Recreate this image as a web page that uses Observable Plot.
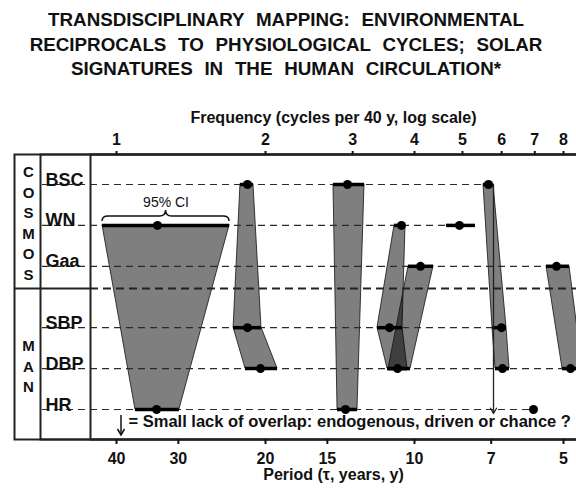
<!DOCTYPE html>
<html><head><meta charset="utf-8">
<script src="https://cdn.jsdelivr.net/npm/d3@7"></script>
<script src="https://cdn.jsdelivr.net/npm/@observablehq/plot@0.6"></script>
<style>
html,body{margin:0;padding:0;background:#fff;overflow:hidden;}
#title{height:95px;box-sizing:border-box;padding-top:8px;padding-right:4px;text-align:center;font:bold 18.8px "Liberation Sans",Arial,sans-serif;line-height:24.5px;word-spacing:6.5px;color:#111;}
#chart svg{display:block;overflow:hidden;}
</style></head><body>
<div id="title">TRANSDISCIPLINARY MAPPING: ENVIRONMENTAL<br>RECIPROCALS TO PHYSIOLOGICAL CYCLES; SOLAR<br>SIGNATURES IN THE HUMAN CIRCULATION*</div>
<div id="chart"></div>
<script>
// ---- data ----
const rows = ["BSC", "WN", "Gaa", "SBP", "DBP", "HR"];
const rowPos = [0, 1, 2, 3.5, 4.5, 5.5];
const groups = ["COSMOS", "MAN"];
const groupRows = [["BSC", "WN", "Gaa"], ["SBP", "DBP", "HR"]];
const dividerPos = 2.54;
const freqDomain = [0.886, 8.499];
const freqTicks = [1, 2, 3, 4, 5, 6, 7, 8];
const periodTicks = [40, 30, 20, 15, 10, 7, 5];

// 95% CI bands (frequency, cycles per 40 y), joined across rows
const bandId  = [1, 1, 2, 2, 2, 3, 3, 4, 4, 4, 5, 5, 6, 6, 6, 7, 7];
const bandRow = ["WN", "HR", "BSC", "SBP", "DBP", "BSC", "HR", "WN", "SBP", "DBP", "Gaa", "DBP", "BSC", "SBP", "DBP", "Gaa", "DBP"];
const bandLo  = [0.937, 1.092, 1.780, 1.724, 1.822, 2.744, 2.796, 3.645, 3.367, 3.528, 3.890, 3.545, 5.514, 5.750, 5.831, 7.392, 7.963];
const bandHi  = [1.692, 1.340, 1.891, 1.963, 2.115, 3.170, 3.068, 3.836, 3.783, 3.872, 4.370, 3.927, 5.777, 6.137, 6.223, 8.227, 8.740];

// CI not joined to any band
const extraCiRow = ["WN"];
const extraCiLo = [4.642];
const extraCiHi = [5.312];

// point estimates
const ptRow  = ["BSC", "BSC", "BSC", "WN", "WN", "WN", "Gaa", "Gaa", "SBP", "SBP", "SBP", "DBP", "DBP", "DBP", "DBP", "HR", "HR", "HR"];
const ptFreq = [1.839, 2.929, 5.644, 1.210, 3.765, 4.931, 4.113, 7.744, 1.839, 3.561, 5.995, 1.954, 3.696, 6.023, 8.265, 1.205, 2.902, 6.958];

// "small lack of overlap" arrow
const arrowFreq = [5.777];
const arrowFrom = ["BSC"];
const arrowTo = ["HR"];

const topLabel = "Frequency (cycles per 40 y, log scale)";
const bottomLabel = "Period (\u03C4, years, y)";
const ciLabel = "95% CI";
const note = "= Small lack of overlap: endogenous, driven or chance ?";

// ---- derived tables ----
const rowY = new Map(rows.map((r, i) => [r, rowPos[i]]));
const bands = bandId.map((b, i) => ({band: b, row: bandRow[i], y: rowY.get(bandRow[i]), lo: bandLo[i], hi: bandHi[i]}));
const cis = bands.concat(extraCiRow.map((r, i) => ({row: r, y: rowY.get(r), lo: extraCiLo[i], hi: extraCiHi[i]})));
const pts = ptRow.map((r, i) => ({row: r, y: rowY.get(r), x: ptFreq[i]}));
const rowLines = rows.map(r => ({
  y: rowY.get(r),
  start: freqDomain[0],
  end: d3.max([...cis.filter(c => c.row === r).map(c => c.hi), ...pts.filter(p => p.row === r).map(p => p.x)])
}));
const arrows = arrowFreq.map((f, i) => ({x: f, y1: rowY.get(arrowFrom[i]), y2: rowY.get(arrowTo[i])}));
const wn = bands[0];

const plot = Plot.plot({
  width: 576,
  height: 393,
  marginLeft: 90,
  marginRight: 0,
  marginTop: 59,
  marginBottom: 49,
  style: {fontFamily: "'Liberation Sans', Arial, sans-serif", fontSize: "16px", fontWeight: "bold", color: "#111", background: "#fff", overflow: "hidden"},
  x: {type: "log", domain: freqDomain},
  y: {type: "linear", domain: [0, 5.5], range: [89, 314], axis: null},
  marks: [
    Plot.areaX(bands, {y: "y", x1: "lo", x2: "hi", z: "band", fill: "#000", fillOpacity: 0.5, stroke: "#111", strokeWidth: 0.8}),
    Plot.ruleY(rowLines, {y: "y", x1: "start", x2: "end", insetLeft: -48, stroke: "#2a2a2a", strokeWidth: 1.2, strokeDasharray: "7,5"}),
    Plot.ruleY([dividerPos], {stroke: "#222", strokeWidth: 2, strokeDasharray: "8,5"}),
    Plot.ruleY([dividerPos], {stroke: "#222", strokeWidth: 2, insetLeft: -76, insetRight: 486}),
    Plot.ruleY(cis, {y: "y", x1: "lo", x2: "hi", stroke: "#000", strokeWidth: 3.5}),
    Plot.dot(pts, {x: "x", y: "y", r: 4.5, fill: "#000"}),
    Plot.arrow(arrows, {x1: "x", x2: "x", y1: "y1", y2: "y2", stroke: "#222", strokeWidth: 1.3, headLength: 7, insetEnd: -4}),
    Plot.frame({stroke: "#222", strokeWidth: 2, insetLeft: -76, insetRight: -4}),
    Plot.frame({stroke: "#222", strokeWidth: 2, insetLeft: -50, insetRight: -4}),
    Plot.frame({stroke: "#222", strokeWidth: 2, insetRight: -4}),
    Plot.text(rows, {y: (d, i) => rowPos[i], text: d => d, frameAnchor: "left", dx: -45, textAnchor: "start", lineAnchor: "bottom", dy: 1, fontSize: 18, fontWeight: "bold", fill: "#111"}),
    Plot.text(groups, {y: (d, i) => d3.mean(groupRows[i], r => rowY.get(r)), text: d => d.split("").join("\n"), frameAnchor: "left", dx: -62, dy: -3.5, lineHeight: 1.37, fontSize: 15, fontWeight: "bold", textAnchor: "middle", fill: "#111"}),
    Plot.text([ciLabel], {x: () => Math.sqrt(wn.lo * wn.hi), y: () => wn.y, text: d => d, dy: -23, fontSize: 14, fontWeight: "normal", fill: "#111"}),
    Plot.text([topLabel], {text: d => d, frameAnchor: "top", dy: -43, fontSize: 16, fontWeight: "bold", fill: "#111"}),
    Plot.text([bottomLabel], {text: d => d, frameAnchor: "bottom", dy: 40.5, fontSize: 16, fontWeight: "bold", fill: "#111"}),
    Plot.text([note], {text: d => d, frameAnchor: "bottom-left", dx: 38, dy: -12.5, textAnchor: "start", fontSize: 16.5, fontWeight: "bold", fill: "#111"}),
    Plot.axisX({anchor: "top", ticks: freqTicks, tickFormat: d => String(d), tickSize: 4, tickPadding: 6, label: null, strokeWidth: 2, fontSize: 16}),
    Plot.axisX({anchor: "bottom", ticks: periodTicks.map(p => 40 / p), tickFormat: f => String(Math.round(40 / f)), tickSize: 5, tickPadding: 8, label: null, strokeWidth: 2, fontSize: 16})
  ]
});

document.getElementById("chart").appendChild(plot);

// brace over the WN 95% CI and the legend arrow
const svg = d3.select(plot);
const xs = plot.scale("x"), ys = plot.scale("y");
const x0 = xs.apply(wn.lo), x1 = xs.apply(wn.hi), wy = ys.apply(wn.y);
const xm = (x0 + x1) / 2, yb = wy - 4, yh = wy - 9, yp = wy - 15;
svg.append("path")
  .attr("d", `M${x0},${yb} Q${x0},${yh} ${x0 + 6},${yh} L${xm - 6},${yh} Q${xm},${yh} ${xm},${yp} Q${xm},${yh} ${xm + 6},${yh} L${x1 - 6},${yh} Q${x1},${yh} ${x1},${yb}`)
  .attr("fill", "none").attr("stroke", "#111").attr("stroke-width", 1.5);
const ax = 121, ay1 = 320, ay2 = 340;
svg.append("line").attr("x1", ax).attr("x2", ax).attr("y1", ay1).attr("y2", ay2).attr("stroke", "#111").attr("stroke-width", 1.5);
svg.append("path").attr("d", `M${ax - 3.5},${ay2 - 6} L${ax},${ay2} L${ax + 3.5},${ay2 - 6}`).attr("fill", "none").attr("stroke", "#111").attr("stroke-width", 1.5);
</script>
</body></html>
